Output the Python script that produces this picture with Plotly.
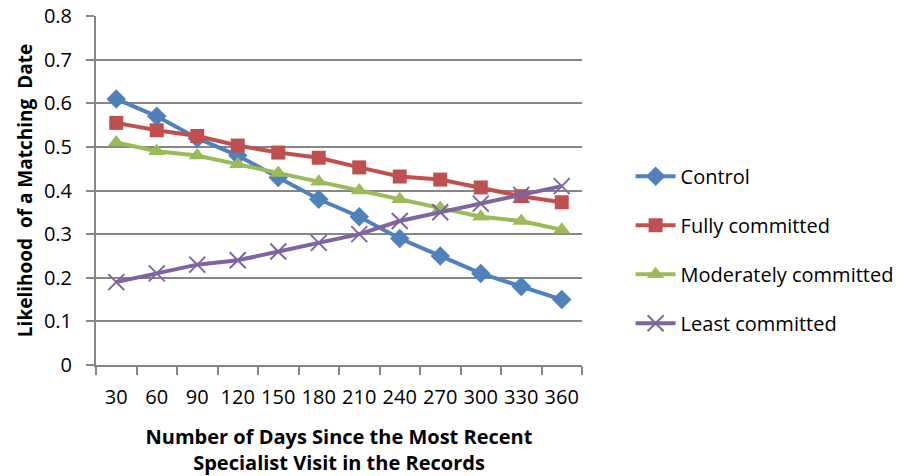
import plotly.graph_objects as go

days = ["30", "60", "90", "120", "150", "180", "210", "240", "270", "300", "330", "360"]
control = [0.61, 0.57, 0.52, 0.48, 0.43, 0.38, 0.34, 0.29, 0.25, 0.21, 0.18, 0.15]
fully = [0.555, 0.538, 0.525, 0.503, 0.487, 0.475, 0.453, 0.432, 0.425, 0.407, 0.387, 0.373]
moderately = [0.51, 0.49, 0.48, 0.46, 0.44, 0.42, 0.40, 0.38, 0.36, 0.34, 0.33, 0.31]
least = [0.19, 0.21, 0.23, 0.24, 0.26, 0.28, 0.30, 0.33, 0.35, 0.37, 0.39, 0.41]
y_ticks = [0, 0.1, 0.2, 0.3, 0.4, 0.5, 0.6, 0.7, 0.8]
y_ticklabels = ["0", "0.1", "0.2", "0.3", "0.4", "0.5", "0.6", "0.7", "0.8"]

FONT = "'Open Sans', sans-serif"

series = [
    ("Control", control, "#4F81BD", dict(symbol="diamond", size=15)),
    ("Fully committed", fully, "#C0504D", dict(symbol="square", size=14)),
    ("Moderately committed", moderately, "#9BBB59", dict(symbol="triangle-up", size=15)),
    ("Least committed", least, "#8064A2", dict(symbol="x-thin-open", size=16, line=dict(width=2, color="#8064A2"))),
]

fig = go.Figure()
for name, vals, color, mk in series:
    m = dict(color=color)
    m.update(mk)
    fig.add_trace(go.Scatter(x=days, y=vals, name=name, legendgroup=name, mode="lines+markers",
                             line=dict(color=color, width=4), marker=m))

fig.update_layout(
    width=908, height=476,
    margin=dict(l=96, r=326, t=16, b=111, autoexpand=False),
    paper_bgcolor="white", plot_bgcolor="white",
    font=dict(family=FONT, size=20, color="black"),
    legend=dict(x=1.1, y=0.33, yanchor="middle", xanchor="left",
                font=dict(size=20), tracegroupgap=20, itemwidth=40),
    showlegend=True,
)
fig.update_xaxes(type="category", range=[-0.5, 11.5], tickson="boundaries", ticks="outside", ticklen=8, tickangle=0,
                 tickcolor="#868686", tickwidth=2, showline=True, linecolor="#868686", linewidth=2,
                 showgrid=False, automargin=False, ticklabelstandoff=13,
                 title=dict(text="<b>Number of Days Since the Most Recent<br>Specialist Visit in the Records</b>",
                            font=dict(size=20), standoff=21))
fig.update_yaxes(range=[0, 0.8], tickvals=y_ticks, ticktext=y_ticklabels, ticks="outside", ticklen=8,
                 tickcolor="#868686", tickwidth=2, showline=True, linecolor="#868686", linewidth=2,
                 showgrid=True, gridcolor="#868686", gridwidth=2, zeroline=False,
                 automargin=False, ticklabelstandoff=10,
                 title=dict(text="<b>Likelihood  of a Matching  Date</b>", font=dict(size=19), standoff=6))

fig.write_html("out.html")
